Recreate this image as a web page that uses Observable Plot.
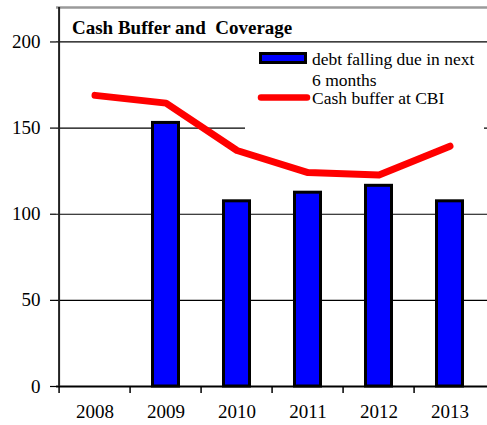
<!DOCTYPE html>
<html><head><meta charset="utf-8">
<script src="https://cdn.jsdelivr.net/npm/d3@7"></script>
<script src="https://cdn.jsdelivr.net/npm/@observablehq/plot@0.6"></script>
<style>
body{margin:0;background:#fff;}
#wrap{width:487px;height:425px;}
</style></head><body><div id="wrap"></div>
<script>
const years = ["2008","2009","2010","2011","2012","2013"];
const debtDue = [null, 153, 107.5, 112.5, 116.5, 107.5];
const cashBuffer = [169, 164.5, 137, 124.2, 122.8, 139.5];
const yTicks = [0, 50, 100, 150, 200];
const titleText = "Cash Buffer and\u00a0 Coverage";
const legendDebt = ["debt falling due in next", "6 months"];
const legendCash = "Cash buffer at CBI";

const debtData = years.map((y, i) => ({year: y, value: debtDue[i]})).filter(d => d.value != null);
const cashData = years.map((y, i) => ({year: y, value: cashBuffer[i]}));

const W = 487, H = 425, mL = 56, mR = 0;
const bandW = (W - mL - mR) / years.length;
const font = "Liberation Serif, Times New Roman, serif";

const chart = Plot.plot({
  width: W, height: H,
  marginLeft: mL, marginRight: mR, marginTop: 7, marginBottom: 39,
  style: {fontFamily: font, fontSize: "19px", background: "white", color: "#000", overflow: "visible"},
  x: {domain: years, padding: 0, axis: null, label: null},
  y: {domain: [0, 220], axis: null, label: null},
  marks: [
    Plot.gridY(yTicks.filter(d => d > 0), {stroke: "#000", strokeOpacity: 1, strokeWidth: 1.2}),
    Plot.ruleY([220], {stroke: "#9a9a9a", strokeWidth: 2.5}),
    Plot.barY(debtData, {x: "year", y: "value", fill: "#0000ff", stroke: "#000", strokeWidth: 3, insetLeft: 22.5, insetRight: 22.5}),
    Plot.ruleY([0], {stroke: "#000", strokeWidth: 2}),
    Plot.ruleX([years[0]], {dx: -bandW / 2, y1: 0, y2: 220, stroke: "#222", strokeWidth: 2}),
    Plot.ruleX(years, {dx: -bandW / 2, y1: 0, y2: -4, stroke: "#000", strokeWidth: 1.5}),
    Plot.line(cashData, {x: "year", y: "value", stroke: "#ff0000", strokeWidth: 7, strokeLinecap: "round", strokeLinejoin: "round"}),
    Plot.axisY(yTicks, {tickSize: 6, tickPadding: 10, fontSize: 19, strokeWidth: 1.2, label: null}),
    Plot.axisX({tickSize: 0, tickPadding: 18, fontSize: 19, label: null})
  ]
});
document.getElementById("wrap").appendChild(chart);

const svg = d3.select(chart);
svg.append("text").attr("x", 72).attr("y", 34).attr("text-anchor", "start")
  .attr("font-family", font).attr("font-size", 19).attr("font-weight", "bold")
  .attr("fill", "#000").style("white-space", "pre").text(titleText);

const lg = svg.append("g").attr("font-family", font).attr("font-size", 17.5)
  .attr("fill", "#000").attr("text-anchor", "start");
lg.append("rect").attr("x", 245).attr("y", 44).attr("width", 239).attr("height", 86).attr("fill", "#fff");
lg.append("rect").attr("x", 260.5).attr("y", 53.5).attr("width", 45).attr("height", 9)
  .attr("fill", "#0000ff").attr("stroke", "#000").attr("stroke-width", 3);
lg.append("text").attr("x", 312).attr("y", 65).text(legendDebt[0]);
lg.append("text").attr("x", 312).attr("y", 86).text(legendDebt[1]);
lg.append("line").attr("x1", 261).attr("x2", 307).attr("y1", 97.5).attr("y2", 97.5)
  .attr("stroke", "#ff0000").attr("stroke-width", 6.5).attr("stroke-linecap", "round");
lg.append("text").attr("x", 312).attr("y", 104).text(legendCash);
</script>
</body></html>
